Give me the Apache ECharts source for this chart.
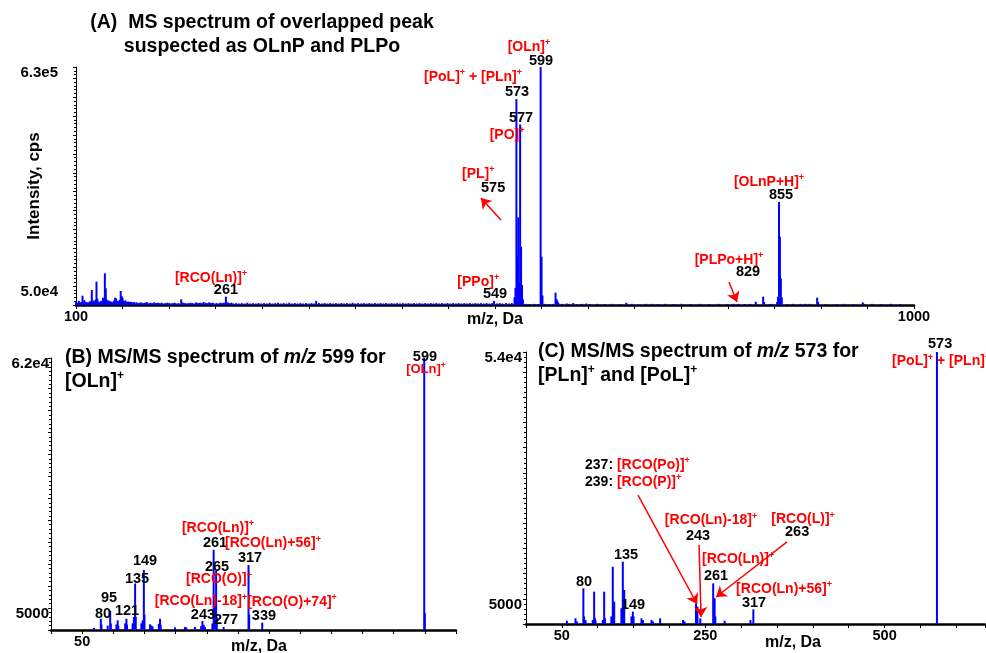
<!DOCTYPE html>
<html><head><meta charset="utf-8">
<script src="https://cdn.jsdelivr.net/npm/echarts/dist/echarts.min.js"></script>
<style>html,body{margin:0;padding:0;background:#fff}#c{width:986px;height:653px}</style>
</head><body><div id="c"></div>
<script>
// ---------- Panel A: MS spectrum (m/z, intensity cps) ----------
const peaksA = [
 [107,24600],[117,39700],[122,61700],[129,19300],[131,83900],[132,44200],[142,19300],[143,17700],
 [148,37000],[150,19300],[213,15000],[261,22000],[358,11000],[549,11000],
 [571,20000],[572,45000],[573,545000],[574,128000],[575,232000],[576,60000],[577,478000],[578,154000],[579,53000],[580,15000],
 [599,630000],[600,128000],[601,25000],[615,32600],[616,16000],[617,11400],[618,6000],[634,5000],[648,4000],
 [691,6000],[718,3000],[811,3000],[830,8700],[838,22000],[839,8000],[853,8000],[854,22000],
 [855,273000],[856,181000],[857,70600],[858,20000],[878,3000],[883,3000],[896,19400],[897,8000],[917,2500],[945,7000],[946,3000]
];
const noiseA = [
 [100,9000],[101,6000],[102,5000],[103,11000],[104,7000],[105,6000],[106,8000],[108,9000],[109,13000],[110,6000],[111,8000],[112,5000],
 [113,7000],[114,6000],[115,10000],[116,8000],[118,9000],[119,12000],[120,7000],[121,14000],[123,17000],[124,6000],[125,9000],[126,7000],
 [127,11000],[128,8000],[130,10000],[133,14000],[134,9000],[135,12000],[136,7000],[137,10000],[138,8000],[139,6000],[140,9000],[141,12000],
 [144,10000],[145,11000],[146,8000],[147,14000],[149,24000],[151,11000],[152,8000],[153,12000],[154,7000],[155,9000],[156,8000],[157,9000],
 [158,6000],[159,8000],[160,7000],[162,8000],[163,6000],[165,7000],[166,5000],[168,6000],[170,7000],[172,5000],[174,6000],[176,8000],
 [178,5000],[180,6000],[182,5000],[184,7000],[186,5000],[188,6000],[190,5000],[192,6000],[194,4000],[196,5000],[198,6000],[200,5000],
 [202,4000],[204,5000],[206,6000],[208,4000],[210,5000],[215,6000],[217,5000],[219,4000],[221,5000],[223,6000],[225,5000],[227,4000],
 [229,7000],[231,5000],[233,6000],[235,5000],[237,8000],[239,6000],[241,5000],[243,7000],[245,5000],[247,6000],[249,4000],[251,5000],
 [253,4000],[255,6000],[257,5000],[259,6000],[263,7000],[265,5000],[267,6000],[269,4000],[272,5000],[275,4000],[278,5000],[281,4000],
 [284,6000],[287,4000],[290,5000],[293,4000],[296,5000],[299,4000],[302,5000],[305,4000],[308,6000],[311,4000],[314,5000],[317,6000],
 [320,4000],[323,5000],[326,4000],[329,6000],[332,4000],[335,5000],[338,4000],[341,5000],[344,4000],[347,5000],[350,4000],[353,5000],
 [356,4000],[361,5000],[364,4000],[367,5000],[370,4000],[373,5000],[376,4000],[379,5000],[382,4000],[385,5000],[388,4000],[391,5000],
 [394,4000],[397,6000],[400,4000],[403,5000],[406,4000],[409,5000],[412,4000],[415,5000],[418,4000],[421,5000],[424,4000],[427,5000],
 [430,4000],[433,5000],[436,4000],[439,5000],[442,4000],[445,5000],[448,4000],[451,5000],[454,4000],[457,5000],[460,4000],[463,5000],
 [466,4000],[469,5000],[472,4000],[475,5000],[478,4000],[481,5000],[484,4000],[487,5000],[490,4000],[493,5000],[496,4000],[499,5000],
 [502,4000],[505,5000],[508,4000],[511,5000],[514,4000],[517,5000],[520,4000],[523,5000],[526,4000],[529,5000],[532,4000],[535,5000],
 [538,4000],[541,5000],[544,4000],[547,5000],[552,4000],[555,5000],[558,4000],[562,5000],[565,4000],[568,5000],
 [583,3000],[587,2500],[592,3000],[596,2500],[604,3000],[608,2500],[612,3000],[622,3000],[627,4000],[630,3000],[638,2500],[643,3000],
 [652,2500],[660,3000],[668,2500],[676,3000],[684,2500],[697,3000],[705,2500],[712,3000],[725,2500],[733,3000],[742,2500],[750,3000],
 [760,2500],[770,3000],[780,2500],[790,3000],[800,2500],[806,3000],[818,2500],[824,3000],[845,2500],[848,3000],[864,2500],[870,3000],
 [888,3000],[905,2500],[925,3000],[935,2500],[955,3000],[965,2500],[975,3000],[985,2500]
];
// ---------- Panel B: MS/MS of m/z 599 ----------
const peaksB = [
 [69,500],[80,2560],[81,1200],[91,1000],[95,4400],[96,1500],[105,1300],[107,2200],[108,1000],[119,1500],[121,2560],[122,1200],
 [131,1500],[133,2960],[135,10600],[136,3000],[145,1500],[147,2200],[149,13700],[150,3500],[159,1300],[161,1000],[163,800],
 [173,1400],[175,2560],[176,1200],[199,600],[215,700],[217,600],[231,700],[241,900],[243,2050],[245,1200],[247,700],
 [259,1500],[261,18300],[262,4000],[263,6000],[265,13500],[266,3000],[277,680],[317,14800],[318,3500],[339,1670],[599,62000],[600,3900]
];
// ---------- Panel C: MS/MS of m/z 573 ----------
const peaksC = [
 [57,650],[69,1130],[71,500],[80,7090],[81,1500],[83,800],[93,800],[95,6420],[96,1200],[97,700],[107,800],[109,6420],[110,1200],
 [119,1500],[121,11370],[122,2500],[123,4430],[133,3110],[135,12370],[136,4000],[137,6750],[147,1500],[149,2450],[150,1500],
 [161,1130],[163,800],[175,800],[177,500],[187,1130],[219,800],[221,500],[237,4100],[238,1500],[239,3440],[243,1130],
 [261,8070],[263,5100],[264,1500],[277,650],[313,800],[317,2900],[573,54000]
];
// ---------- tick labels ----------
const xLabelsA = [100, 1000];
const yLabelsA = [[50000,'5.0e4'],[630000,'6.3e5']];
const xLabelsB = [50];
const yLabelsB = [[5000,'5000'],[62000,'6.2e4']];
const xLabelsC = [50, 250, 500];
const yLabelsC = [[5000,'5000'],[54000,'5.4e4']];
// ---------- annotations: [m/z, intensity, text, align] ----------
const notesA = [
 [245,71500,'{r|[RCO(Ln)]}{s|+}'],[261,39700,'{n|261}'],[532,60900,'{r|[PPo]}{s|+}'],[550,29100,'{n|549}'],
 [532,346800,'{r|[PL]}{s|+}'],[548,309700,'{n|575}'],[563,450000,'{r|[PO]}{s|+}'],[578,495000,'{n|577}'],
 [573.6,563800,'{n|573}'],[526.4,603500,'{r|[PoL]}{s|+}{r| + [PLn]}{s|+}'],[599.4,645900,'{n|599}'],[586.5,682900,'{r|[OLn]}{s|+}'],
 [844.3,325600,'{r|[OLnP+H]}{s|+}'],[857.2,291200,'{n|855}'],[801.3,119100,'{r|[PLPo+H]}{s|+}'],[821.7,87400,'{n|829}']
];
const arrowsA = [[556.4,225000,534.9,283200],[801.3,60900,809.9,7900]];
const notesB = [
 [600.2,62200,'{n|599}'],[601.8,59500,'{rs|[OLn]}{ss|+}'],[268,23300,'{r|[RCO(Ln)]}{s|+}'],[263.2,19800,'{n|261}'],
 [356.3,19800,'{r|[RCO(Ln)+56]}{s|+}'],[319.4,16400,'{n|317}'],[150.9,15700,'{n|149}'],[266.4,14400,'{n|265}'],
 [138,11600,'{n|135}'],[269.6,11600,'{r|[RCO(O)]}{s|+}'],[93.1,7300,'{n|95}'],[240.7,6600,'{r|[RCO(Ln)-18]}{s|+}'],
 [386.8,6400,'{r|[RCO(O)+74]}{s|+}'],[83.5,3650,'{n|80}'],[122,4330,'{n|121}'],[243.9,3420,'{n|243}'],
 [280.9,2280,'{n|277}'],[341.8,3190,'{n|339}']
];
const arrowsB = [];
const notesC = [
 [577.4,55600,'{n|573}'],[578.8,52200,'{r|[PoL]}{s|+}{r| + [PLn]}{s|+}'],
 [82.3,31600,'{k|237: }{r|[RCO(Po)]}{s|+}','left'],[82.3,28200,'{k|239: }{r|[RCO(P)]}{s|+}','left'],
 [258,20600,'{r|[RCO(Ln)-18]}{s|+}'],[239.9,17500,'{n|243}'],[386.3,20800,'{r|[RCO(L)]}{s|+}'],[378,18300,'{n|263}'],
 [295.7,12900,'{r|[RCO(Ln)]}{s|+}'],[265,9530,'{n|261}'],[359.8,6950,'{r|[RCO(Ln)+56]}{s|+}'],[318,4170,'{n|317}'],
 [139.5,13700,'{n|135}'],[80.9,8340,'{n|80}'],[149.2,3770,'{n|149}']
];
const arrowsC = [[156.2,25600,238.5,3970],[241.3,15700,244.1,1390],[364,16300,265,5360]];

// ---------- styling / build ----------
const FF = '"Liberation Sans", Arial, sans-serif';
const RED = '#ff0000', BLUE = '#0000ff';
const tok = (color, size, extra) => Object.assign({color:color, fontSize:size, fontWeight:'bold', fontFamily:FF,
  lineHeight:17, textBorderWidth:0, opacity:1}, extra || {});
const RICH = {
  n: tok('#000', 14.5), k: tok('#000', 14), r: tok(RED, 14), s: tok(RED, 9, {verticalAlign:'top'}),
  rs: tok(RED, 13, {lineHeight:15}), ss: tok(RED, 8.5, {lineHeight:15, verticalAlign:'top'})
};
const boldTxt = (size) => ({color:'#000', fontSize:size, fontWeight:'bold', fontFamily:FF});

function xAxisCfg(g, min, max, labels, nameGap, namePad) {
  return {
    gridIndex:g, type:'value', min:min, max:max, interval:50,
    axisLine:{show:true, onZero:false, lineStyle:{color:'#000', width:2.5}},
    axisTick:{show:true, length:4, lineStyle:{color:'#000', width:1}},
    axisLabel:Object.assign({customValues:labels, margin:4, formatter:v=>String(v)}, boldTxt(14.5)),
    splitLine:{show:false},
    name:'m/z, Da', nameLocation:'middle', nameGap:nameGap, nameMoveOverlap:false,
    nameTextStyle:Object.assign({padding:[0,0,0,namePad]}, boldTxt(16))
  };
}
function yAxisCfg(g, max, labels, margin, name) {
  const map = {}; labels.forEach(l => map[l[0]] = l[1]);
  const c = {
    gridIndex:g, type:'value', min:0, max:max, interval: max > 100000 ? 50000 : 5000,
    axisLine:{show:true, lineStyle:{color:'#000', width:1}},
    axisTick:{show:true, length:3, lineStyle:{color:'#000', width:1}},
    minorTick:{show:true, splitNumber:5, length:2, lineStyle:{color:'#000', width:1}},
    axisLabel:Object.assign({customValues:labels.map(l=>l[0]), margin:margin, verticalAlign:'top', lineHeight:12,
      formatter:v => (map[v] !== undefined ? map[v] : '')}, boldTxt(15)),
    splitLine:{show:false}
  };
  if (name) {
    c.name = name; c.nameLocation = 'middle'; c.nameGap = 33; c.nameMoveOverlap = false;
    c.nameTextStyle = boldTxt(17);
  }
  return c;
}
function barSeries(g, data) {
  return {type:'bar', xAxisIndex:g, yAxisIndex:g, data:data, barWidth:2,
    itemStyle:{color:BLUE}, animation:false, silent:true, emphasis:{disabled:true}};
}
function noteSeries(g, notes, arrows) {
  return {
    type:'scatter', xAxisIndex:g, yAxisIndex:g, symbol:'circle', symbolSize:0.01, clip:false, silent:true,
    itemStyle:{color:'#ffffff', opacity:1}, animation:false, z:10, emphasis:{disabled:true},
    data: notes.map(n => {
      const d = {value:[n[0], n[1]], t:n[2]};
      if (n[3] === 'left') d.label = {position:'right', distance:0};
      return d;
    }),
    label:{show:true, position:'inside', color:'#000', opacity:1, textBorderWidth:0,
      formatter:p => p.data.t, rich:RICH},
    markLine: arrows.length ? {
      silent:true, animation:false, symbol:['none','arrow'], symbolSize:10,
      itemStyle:{color:RED}, lineStyle:{color:RED, width:1.5, type:'solid', opacity:1},
      label:{show:false}, emphasis:{disabled:true},
      data: arrows.map(a => [{coord:[a[0],a[1]]},{coord:[a[2],a[3]]}])
    } : undefined
  };
}
const titleRich = {
  i:{fontStyle:'italic', fontSize:19.5, fontWeight:'bold', fontFamily:FF, fill:'#000', lineHeight:23.5},
  s:{fontSize:12, fontWeight:'bold', fontFamily:FF, fill:'#000', lineHeight:23.5, verticalAlign:'top'}
};
function titleEl(x, y, text, align) {
  return {type:'text', x:x, y:y, silent:true, style:{
    text:text, fill:'#000', fontSize:19.5, fontWeight:'bold', fontFamily:FF, lineHeight:23.5,
    align:align, verticalAlign:'top', rich:titleRich}};
}

const chart = echarts.init(document.getElementById('c'), null, {renderer:'canvas'});
chart.setOption({
  animation:false,
  backgroundColor:'#fff',
  grid:[
    {left:76, right:72, top:67, bottom:348, outerBoundsMode:'none', containLabel:false},
    {left:51, width:405, top:358, bottom:23, outerBoundsMode:'none', containLabel:false},
    {left:526, width:459, top:352, bottom:29, outerBoundsMode:'none', containLabel:false}
  ],
  xAxis:[
    xAxisCfg(0, 100, 1000, xLabelsA, 7, 0),
    xAxisCfg(1, 0, 650, xLabelsB, 9, 11),
    xAxisCfg(2, 0, 640, xLabelsC, 11, 75)
  ],
  yAxis:[
    yAxisCfg(0, 630000, yLabelsA, 18, 'Intensity, cps'),
    yAxisCfg(1, 62000, yLabelsB, 2),
    yAxisCfg(2, 54000, yLabelsC, 4)
  ],
  series:[
    barSeries(0, noiseA.concat(peaksA)), noteSeries(0, notesA, arrowsA),
    barSeries(1, peaksB), noteSeries(1, notesB, arrowsB),
    barSeries(2, peaksC), noteSeries(2, notesC, arrowsC)
  ],
  graphic:[
    titleEl(262, 11, '(A)  MS spectrum of overlapped peak\nsuspected as OLnP and PLPo', 'center'),
    titleEl(65, 346, '(B) MS/MS spectrum of {i|m/z} 599 for\n[OLn]{s|+}', 'left'),
    titleEl(538, 340, '(C) MS/MS spectrum of {i|m/z} 573 for\n[PLn]{s|+} and [PoL]{s|+}', 'left')
  ]
});
</script>
</body></html>
